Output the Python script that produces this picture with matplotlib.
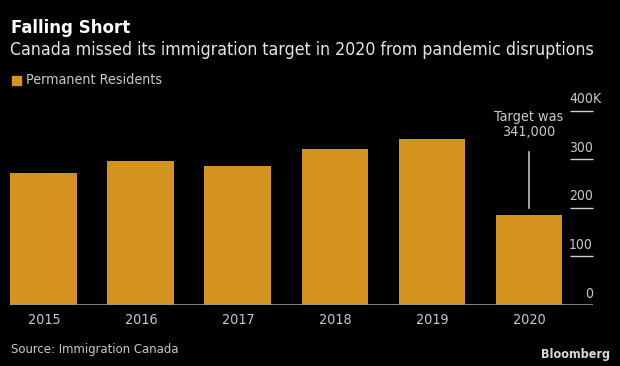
import matplotlib.pyplot as plt

years = ['2015', '2016', '2017', '2018', '2019', '2020']
residents = [271845, 296370, 286480, 321045, 341180, 184370]
yticks = [0, 100, 200, 300, 400]
ytick_labels = ['0', '100', '200', '300', '400']

bg = 'black'
bar_color = '#d4921f'
label_color = '#c8c8c8'
plt.rcParams['font.family'] = 'DejaVu Sans'
plt.rcParams['font.stretch'] = 'condensed'

fig = plt.figure(figsize=(6.2, 3.66), dpi=100, facecolor=bg)
ax = fig.add_axes([10 / 620, 1 - 305 / 366, 583 / 620, (305 - 110.7) / 366])
ax.set_facecolor(bg)

x = list(range(len(years)))
vals = [v / 1000 for v in residents]
ax.bar(x, vals, width=0.69, color=bar_color, zorder=2)

ax.set_xlim(-0.35, 5.66)
ax.set_ylim(0, 400)

# right-side tick marks and labels (the K hangs past the tick end)
ax.hlines(yticks[1:], 5.42, 5.66, color='#d0d0d0', lw=1, clip_on=False)
for t, lab in zip(yticks, ytick_labels):
    ax.text(5.66, t + 9, lab, ha='right', va='bottom', color=label_color, fontsize=10)
ax.text(5.66, yticks[-1] + 9, 'K', ha='left', va='bottom', color=label_color,
        fontsize=10, clip_on=False)

ax.axhline(0, color='#9a9a9a', lw=1.2, zorder=3)

ax.set_xticks(x)
ax.set_xticklabels(years, color=label_color, fontsize=10.3)
ax.tick_params(axis='x', length=0, pad=6)
ax.set_yticks([])
for s in ax.spines.values():
    s.set_visible(False)

# target annotation
ax.plot([5, 5], [200, 316], color='#bdbdbd', lw=1.2)
ax.text(5, 372, 'Target was\n341,000', ha='center', va='center', color=label_color,
        fontsize=10.4, linespacing=1.1, clip_on=False)

fig.text(11 / 620, 1 - 28 / 366, 'Falling Short', color='white', fontsize=13.3,
         fontweight='bold', va='center', ha='left')
fig.text(10 / 620, 1 - 50 / 366,
         'Canada missed its immigration target in 2020 from pandemic disruptions',
         color='#e6e6e6', fontsize=12.7, va='center', ha='left')

# legend
fig.patches.append(plt.Rectangle((12 / 620, 1 - 85 / 366), 9 / 620, 9 / 366,
                                 transform=fig.transFigure, color=bar_color))
fig.text(26.5 / 620, 1 - 80 / 366, 'Permanent Residents', color=label_color,
         fontsize=10.3, va='center', ha='left')

fig.text(10.5 / 620, 1 - 349 / 366, 'Source: Immigration Canada', color=label_color,
         fontsize=9.4, va='center', ha='left')
fig.text(610 / 620, 1 - 354.5 / 366, 'Bloomberg', color='#d8d8d8', fontsize=9,
         fontweight='bold', va='center', ha='right')

fig.savefig('out.png', dpi=100, facecolor=bg)
